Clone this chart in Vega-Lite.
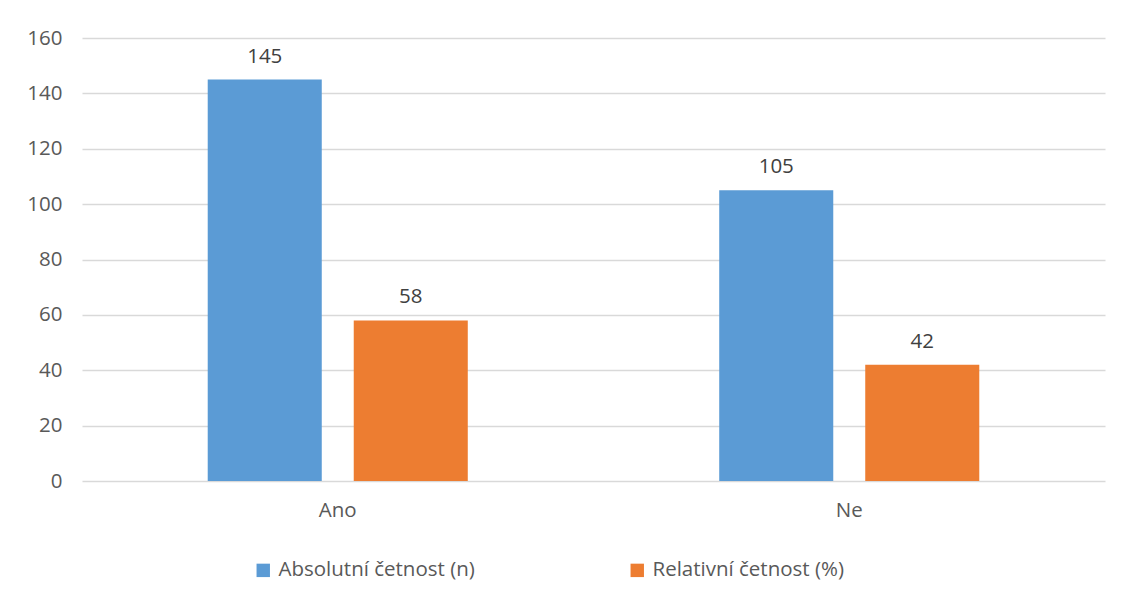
{
  "$schema": "https://vega.github.io/schema/vega-lite/v6.json",
  "width": 1023,
  "height": 443,
  "autosize": "none",
  "padding": {"left": 82, "top": 38, "right": 25, "bottom": 118},
  "background": "white",
  "config": {
    "view": {"stroke": null},
    "font": "Open Sans"
  },
  "data": {
    "values": [
      {"kategorie": "Ano", "serie": "Absolutní četnost (n)", "hodnota": 145},
      {"kategorie": "Ano", "serie": "Relativní četnost (%)", "hodnota": 58},
      {"kategorie": "Ne", "serie": "Absolutní četnost (n)", "hodnota": 105},
      {"kategorie": "Ne", "serie": "Relativní četnost (%)", "hodnota": 42}
    ]
  },
  "encoding": {
    "x": {
      "field": "kategorie", "type": "nominal",
      "scale": {"paddingInner": 0, "paddingOuter": 0},
      "axis": {"title": null, "labelAngle": 0, "ticks": false, "domain": false,
               "labelFontSize": 20.5, "labelColor": "#595959", "labelPadding": 19}
    },
    "xOffset": {
      "field": "serie", "type": "nominal",
      "scale": {"paddingInner": 0.219, "paddingOuter": 0.861}
    },
    "y": {
      "field": "hodnota", "type": "quantitative",
      "scale": {"domain": [0, 160]},
      "axis": {"title": null, "values": [0,20,40,60,80,100,120,140,160], "labelOverlap": false,
               "ticks": false, "domain": false, "gridColor": "#D9D9D9", "gridWidth": 1.3,
               "labelFontSize": 20.5, "labelColor": "#595959", "labelPadding": 20}
    }
  },
  "layer": [
    {
      "mark": {"type": "bar"},
      "encoding": {
        "color": {
          "field": "serie", "type": "nominal",
          "scale": {"range": ["#5B9BD5", "#ED7D31"]},
          "legend": {
            "title": null, "orient": "none", "legendX": 171, "legendY": 522,
            "direction": "horizontal", "columns": 2, "columnPadding": 152,
            "symbolType": "square", "symbolSize": 180, "symbolStrokeWidth": 0,
            "symbolOffset": 0, "labelOffset": 5,
            "labelFontSize": 20.5, "labelColor": "#595959", "labelLimit": 400
          }
        }
      }
    },
    {
      "mark": {"type": "text", "baseline": "bottom", "dy": -13, "fontSize": 20.5, "color": "#404040"},
      "encoding": {"text": {"field": "hodnota", "type": "quantitative"}}
    }
  ]
}
